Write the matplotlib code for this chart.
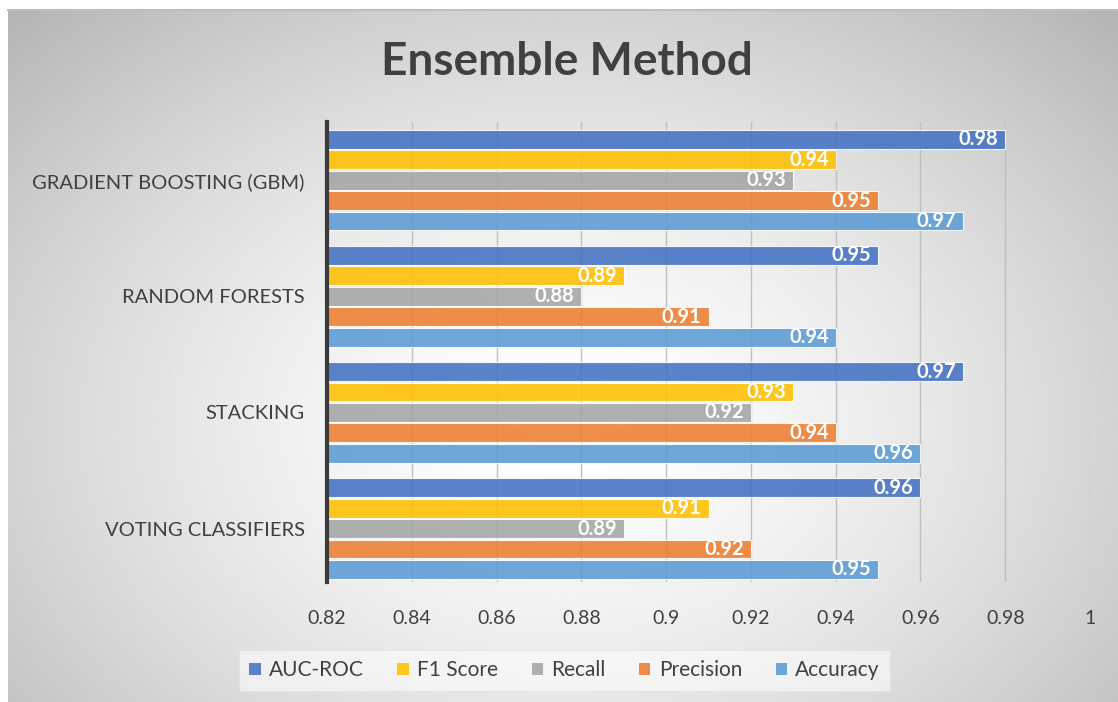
import numpy as np
import matplotlib.pyplot as plt
from matplotlib.patches import Patch

plt.rcParams['font.family'] = ['Lato', 'DejaVu Sans']

methods = ['GRADIENT BOOSTING (GBM)', 'RANDOM FORESTS', 'STACKING', 'VOTING CLASSIFIERS']
metrics = ['AUC-ROC', 'F1 Score', 'Recall', 'Precision', 'Accuracy']
auc_roc = [0.98, 0.95, 0.97, 0.96]
f1_score = [0.94, 0.89, 0.93, 0.91]
recall = [0.93, 0.88, 0.92, 0.89]
precision = [0.95, 0.91, 0.94, 0.92]
accuracy = [0.97, 0.94, 0.96, 0.95]
colors = ['#4472C4', '#FFC000', '#A5A5A5', '#ED7D31', '#5B9BD5']
ticks = [0.82, 0.84, 0.86, 0.88, 0.9, 0.92, 0.94, 0.96, 0.98, 1.0]
tick_labels = ['0.82', '0.84', '0.86', '0.88', '0.9', '0.92', '0.94', '0.96', '0.98', '1']

series = [auc_roc, f1_score, recall, precision, accuracy]

fig = plt.figure(figsize=(11.18, 7.02), dpi=100)

# radial grey-to-white backdrop
bg = fig.add_axes([0.007, 0.0, 0.993, 0.986])
yy, xx = np.mgrid[0:1:300j, 0:1:480j]
r = np.sqrt(((xx - 0.5) / 0.72) ** 2 + ((yy - 0.4) / 0.85) ** 2)
shade = 1.0 - 0.3 * np.clip(r, 0, 1) ** 1.5
bg.imshow(shade, cmap='gray', vmin=0, vmax=1, aspect='auto', extent=[0, 1, 0, 1], origin='lower')
bg.axis('off')
fig.add_artist(plt.Line2D([0.007, 1.0], [0.986, 0.986], color='#bdbdbd', lw=1.5))

ax = fig.add_axes([0.2925, 0.171, 0.6825, 0.655])
ax.set_facecolor('none')

pitch = 0.176
height = 0.162
y = np.arange(len(methods))
for i, (vals, name, c) in enumerate(zip(series, metrics, colors)):
    pos = y + (i - 2) * pitch
    left = ticks[0]
    ax.barh(pos, np.array(vals) - left, left=left, height=height, color=c,
            alpha=0.88, edgecolor='white', linewidth=0.8, label=name, zorder=2)
    for p, v in zip(pos, vals):
        ax.annotate(f'{v:.2f}', (v, p), xytext=(-5, 0), textcoords='offset points',
                    ha='right', va='center', color='white', fontsize=14.5,
                    fontweight='bold', zorder=3)

ax.set_xlim(0.82, 1.0)
ax.set_ylim(len(methods) - 0.54, -0.5)
ax.set_xticks(ticks)
ax.set_xticklabels(tick_labels, fontsize=14, color='#404040')
ax.set_yticks(y)
ax.set_yticklabels(methods, fontsize=14.5, color='#404040')
ax.tick_params(axis='y', length=0, pad=16)
ax.tick_params(axis='x', length=0, pad=20)
ax.grid(axis='x', color='#bfbfbf', lw=1, zorder=1)
for s in ['top', 'right', 'bottom']:
    ax.spines[s].set_visible(False)
ax.spines['left'].set_color('#3a3a3a')
ax.spines['left'].set_linewidth(3)
ax.spines['left'].set_zorder(4)

fig.text(0.507, 0.912, 'Ensemble Method', ha='center', va='center',
         fontsize=33, fontweight='bold', color='#404040')

handles = [Patch(facecolor=c, edgecolor='none', alpha=0.88) for c in colors]
leg = fig.legend(handles, metrics, loc='center', bbox_to_anchor=(0.505, 0.045), ncol=5,
                 fontsize=15, frameon=True, handlelength=0.55, handleheight=0.55,
                 handletextpad=0.4, columnspacing=1.6, borderpad=0.5)
leg.get_frame().set_facecolor('white')
leg.get_frame().set_alpha(0.55)
leg.get_frame().set_edgecolor('#e0e0e0')
leg.get_frame().set_boxstyle('square', pad=0)
for t in leg.get_texts():
    t.set_color('#404040')

fig.savefig('out.png', dpi=100)
